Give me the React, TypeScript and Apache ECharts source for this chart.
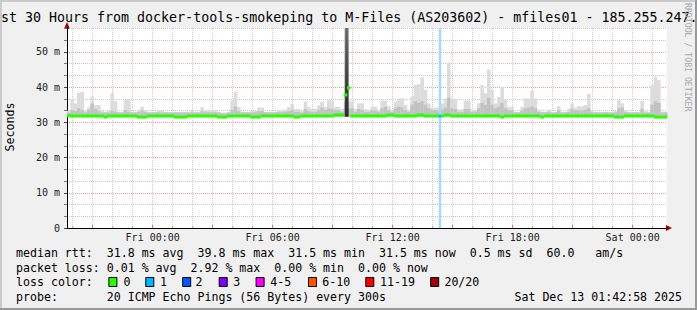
import React, { useEffect, useRef } from "react";
import * as echarts from "echarts";

// time axis: hours since Thu Dec 11 00:00
const START_H = 19 + 42 / 60 + 58 / 3600; // Thu 19:42:58
const SPAN_H = 30;
const BIN_H = 10 / 60;
const SMOKE_FLOOR = 31.6;
const Y_MAX = 56.8;

// smoke upper edge (ms), one value per 10-minute bin
const smokeMax = [
  33.3, 36.5, 35.4, 38.4, 38.7, 33.3, 34.3, 37.3, 34.9, 34.9,
  33.2, 33.0, 33.3, 38.3, 36.0, 33.0, 33.0, 36.5, 36.5, 33.0,
  33.0, 33.6, 34.5, 33.5, 33.0, 33.0, 33.0, 33.5, 33.3, 33.0,
  33.0, 33.0, 33.0, 33.0, 33.0, 33.0, 33.0, 33.2, 33.0, 33.0,
  34.3, 33.5, 33.6, 33.6, 33.5, 33.0, 32.8, 32.8, 33.0, 36.2,
  38.6, 34.4, 33.0, 33.0, 33.0, 33.3, 33.3, 34.2, 34.2, 33.0,
  33.0, 33.0, 33.0, 33.5, 33.5, 33.6, 34.3, 35.3, 33.8, 33.8,
  33.2, 35.9, 34.3, 33.8, 33.8, 34.8, 35.9, 34.4, 36.4, 36.0,
  34.4, 34.4, 33.8, 36.0, 36.0, 36.0, 33.8, 35.4, 35.4, 33.8,
  33.6, 34.4, 34.4, 33.6, 36.2, 36.2, 34.6, 33.6, 35.9, 36.8,
  36.8, 34.9, 33.6, 37.3, 40.6, 40.9, 42.8, 39.2, 35.4, 34.2,
  34.2, 34.2, 35.4, 36.8, 47.0, 36.6, 36.6, 33.7, 33.7, 36.2,
  36.2, 33.6, 33.6, 35.4, 40.6, 38.3, 45.0, 39.2, 35.4, 37.2,
  40.1, 36.4, 34.4, 34.4, 33.0, 33.0, 34.4, 36.8, 36.8, 39.0,
  36.8, 33.6, 33.0, 33.0, 33.6, 33.0, 33.0, 34.6, 33.0, 33.0,
  33.9, 35.4, 34.2, 34.6, 34.6, 34.9, 38.1, 33.5, 33.0, 33.0,
  33.0, 33.0, 33.0, 33.0, 33.2, 36.5, 35.4, 33.5, 33.0, 33.0,
  33.0, 33.0, 36.2, 33.2, 33.0, 40.6, 43.0, 42.0, 33.0, 33.0,
];

// darker inner smoke band upper edge (ms)
const smokeMid = [
  32.8, 33.5, 33.2, 34.0, 33.5, 32.8, 33.5, 35.3, 33.8, 33.2,
  32.8, 32.8, 32.8, 33.3, 33.0, 32.8, 32.8, 33.5, 33.0, 32.8,
  32.8, 32.9, 33.4, 32.9, 32.8, 32.8, 32.8, 32.9, 32.8, 32.8,
  32.8, 32.8, 32.8, 32.8, 32.8, 32.8, 32.8, 32.8, 32.8, 32.8,
  33.2, 32.9, 32.9, 32.9, 32.9, 32.8, 32.6, 32.6, 32.8, 33.5,
  34.5, 33.2, 32.8, 32.8, 32.8, 32.8, 32.8, 33.2, 33.2, 32.8,
  32.8, 32.8, 32.8, 32.9, 32.9, 33.0, 33.2, 33.5, 33.0, 33.0,
  32.8, 33.8, 33.2, 33.0, 33.0, 33.5, 34.2, 33.5, 34.0, 33.8,
  33.5, 33.4, 33.0, 34.0, 34.0, 34.0, 33.0, 33.8, 33.5, 33.0,
  33.0, 33.4, 33.4, 33.0, 34.0, 34.5, 33.4, 33.0, 34.0, 34.5,
  34.2, 33.5, 33.0, 35.0, 36.0, 35.5, 36.0, 35.0, 34.0, 33.5,
  33.5, 33.2, 33.8, 34.2, 37.0, 34.0, 33.8, 33.0, 33.0, 33.8,
  33.8, 33.0, 33.0, 34.0, 35.5, 35.0, 37.0, 35.0, 34.0, 34.5,
  35.5, 34.0, 33.5, 33.4, 32.8, 32.8, 33.4, 34.0, 34.2, 34.5,
  34.0, 33.0, 32.8, 32.8, 33.0, 32.8, 32.8, 33.4, 32.8, 32.8,
  33.0, 33.8, 33.4, 33.4, 33.4, 33.6, 34.0, 32.9, 32.8, 32.8,
  32.8, 32.8, 32.8, 32.8, 32.8, 34.0, 34.2, 32.9, 32.8, 32.8,
  32.8, 32.8, 33.8, 32.8, 32.8, 35.0, 36.0, 35.5, 32.8, 32.8,
];

// median rtt (ms)
const median = [
  31.9, 31.8, 31.8, 31.8, 31.8, 31.8, 31.8, 31.8, 31.8, 31.8,
  31.8, 31.5, 31.8, 31.8, 31.8, 31.8, 31.8, 31.8, 31.8, 31.8,
  31.8, 31.5, 31.5, 31.5, 31.8, 31.8, 31.8, 31.8, 31.8, 31.8,
  31.8, 31.8, 31.5, 31.5, 31.5, 31.5, 31.8, 31.8, 31.8, 31.8,
  31.8, 31.8, 31.8, 31.8, 31.8, 31.5, 31.5, 31.5, 31.8, 31.8,
  31.8, 31.8, 31.8, 31.8, 31.8, 31.5, 31.5, 31.5, 31.8, 31.8,
  31.8, 31.8, 31.8, 31.8, 31.8, 31.8, 31.8, 31.8, 31.5, 31.5,
  31.8, 31.8, 31.8, 31.8, 31.8, 31.8, 31.8, 31.8, 31.8, 31.8,
  32.1, 32.1, 32.1, 37.8, 39.8, 31.8, 31.8, 31.8, 31.8, 31.8,
  31.8, 31.8, 31.8, 31.8, 31.8, 31.8, 32.1, 32.1, 31.8, 31.8,
  31.8, 31.8, 31.8, 31.8, 31.8, 32.1, 32.1, 31.8, 31.8, 31.8,
  31.8, 31.8, 31.8, 32.1, 32.1, 31.8, 31.8, 31.8, 31.8, 31.8,
  31.8, 31.8, 31.8, 31.8, 31.8, 31.8, 31.8, 31.8, 31.8, 31.8,
  31.5, 31.8, 31.8, 31.8, 31.8, 31.8, 31.8, 31.8, 31.8, 31.8,
  31.8, 31.8, 31.5, 31.8, 31.8, 31.8, 31.8, 31.8, 31.8, 31.8,
  31.8, 31.8, 31.8, 31.8, 31.8, 31.8, 31.8, 31.8, 31.8, 31.8,
  31.8, 31.8, 31.8, 31.8, 31.5, 31.5, 31.5, 31.8, 31.8, 31.8,
  31.8, 31.8, 31.8, 31.8, 31.8, 31.8, 31.5, 31.5, 31.5, 31.5,
];

// dark spike: [startH, endH, top ms]
const spikes = [[33.6, 33.8, 56.8]];
// loss events: [startH, endH, lost pings]
const lossEvents = [[38.3, 38.43, 1]];

const yMajorTicks = [0, 10, 20, 30, 40, 50];
const yMinorTicks = [3.333, 6.667, 13.333, 16.667, 23.333, 26.667, 33.333, 36.667, 43.333, 46.667, 53.333, 56.667];
const xHourTicks = [20, 22, 23, 25, 26, 28, 29, 31, 32, 34, 35, 37, 38, 40, 41, 43, 44, 46, 47, 49];
const xMajorTicks = [21, 24, 27, 30, 33, 36, 39, 42, 45, 48];
const xLabelTicks = [24, 30, 36, 42, 48];
const xLabelTexts = ["Fri 00:00", "Fri 06:00", "Fri 12:00", "Fri 18:00", "Sat 00:00"];

const titleText = "st 30 Hours from docker-tools-smokeping to M-Files (AS203602) - mfiles01 - 185.255.247.";
const legendRows = [
  "median rtt:  31.8 ms avg  39.8 ms max  31.5 ms min  31.5 ms now  0.5 ms sd  60.0   am/s",
  "packet loss: 0.01 % avg  2.92 % max  0.00 % min  0.00 % now",
  "loss color:",
  "probe:       20 ICMP Echo Pings (56 Bytes) every 300s",
];
const dateText = "Sat Dec 13 01:42:58 2025";
const lossLabels = ["0", "1", "2", "3", "4-5", "6-10", "11-19", "20/20"];
const lossColors = ["#26ff00", "#00b8ff", "#0059ff", "#7e00ff", "#ff00ff", "#ff5500", "#ff0000", "#a10000"];
const lossBoxX = [108.4, 145.3, 182.2, 218.7, 255.6, 308, 365.3, 430.2];
const lossLabelX = [123.6, 160, 195.6, 233.3, 270.2, 322.2, 380, 444.4];

const MONO = "'DejaVu Sans Mono', monospace";

export default function App() {
  const ref = useRef<HTMLDivElement>(null);
  useEffect(() => {
    if (!ref.current) return;
    const chart = echarts.init(ref.current, null, { renderer: "svg" });

    const smokeData = smokeMax.map((m, i) => [
      START_H + i * BIN_H,
      START_H + (i + 1) * BIN_H,
      m,
      smokeMid[i],
      median[i],
    ]);
    const lossData = lossEvents.map(([a, b, n]) => {
      const idx = Math.min(median.length - 1, Math.floor(((a + b) / 2 - START_H) / BIN_H));
      return [a, b, n, median[idx]];
    });

    const rowY = [253, 268, 282, 297];
    const graphics: any[] = [
      { type: "rect", shape: { x: 0, y: 0, width: 697, height: 2 }, style: { fill: "#cbcbcb" }, silent: true },
      { type: "rect", shape: { x: 0, y: 0, width: 2, height: 310 }, style: { fill: "#cbcbcb" }, silent: true },
      { type: "rect", shape: { x: 695, y: 0, width: 2, height: 310 }, style: { fill: "#999999" }, silent: true },
      { type: "rect", shape: { x: 0, y: 308, width: 697, height: 2 }, style: { fill: "#999999" }, silent: true },
      {
        type: "text", x: 1, y: 17,
        style: { text: titleText, font: `13.3px ${MONO}`, fill: "#000", textAlign: "left", textVerticalAlign: "middle" },
      },
      {
        type: "text", x: 688, y: 3, rotation: -Math.PI / 2,
        style: { text: "RRDTOOL / TOBI OETIKER", font: `8.2px ${MONO}`, fill: "#a8a8a8", textAlign: "left", textVerticalAlign: "middle" },
      },
      {
        type: "text", x: 10, y: 127, rotation: Math.PI / 2,
        style: { text: "Seconds", font: `11.6px ${MONO}`, fill: "#000", textAlign: "center", textVerticalAlign: "middle" },
      },
      { type: "polygon", shape: { points: [[64, 29], [70, 29], [67, 22]] }, style: { fill: "#a00000" } },
      { type: "polygon", shape: { points: [[666, 225], [666, 231], [672, 228]] }, style: { fill: "#a00000" } },
    ];
    legendRows.forEach((t, i) => {
      graphics.push({
        type: "text", x: 16, y: rowY[i],
        style: { text: t, font: `11.6px ${MONO}`, fill: "#000", textAlign: "left", textVerticalAlign: "middle" },
      });
    });
    graphics.push({
      type: "text", x: 682, y: rowY[3],
      style: { text: dateText, font: `11.6px ${MONO}`, fill: "#000", textAlign: "right", textVerticalAlign: "middle" },
    });
    lossLabels.forEach((lab, i) => {
      graphics.push({
        type: "rect", shape: { x: lossBoxX[i] + 0.5, y: rowY[2] - 4.5, width: 8, height: 9 },
        style: { fill: lossColors[i], stroke: "#000", lineWidth: 1 },
      });
      graphics.push({
        type: "text", x: lossLabelX[i], y: rowY[2],
        style: { text: lab, font: `11.6px ${MONO}`, fill: "#000", textAlign: "left", textVerticalAlign: "middle" },
      });
    });

    const option: any = {
      animation: false,
      backgroundColor: "#f0f0f0",
      grid: { left: 67, top: 28, width: 600, height: 200, show: true, backgroundColor: "#ffffff", borderWidth: 0 },
      xAxis: [
        {
          type: "value", min: START_H, max: START_H + SPAN_H,
          axisLine: { show: true, lineStyle: { color: "#000", width: 1 } },
          axisTick: { show: true, inside: true, length: 2, customValues: xHourTicks, lineStyle: { color: "#aaaaaa" } },
          axisLabel: { show: false },
          splitLine: { show: true, lineStyle: { color: "#cccccc", type: [1, 1], width: 1 } },
        },
        {
          type: "value", min: START_H, max: START_H + SPAN_H, position: "bottom",
          axisLine: { show: false },
          axisTick: { show: true, inside: true, length: 3, customValues: xMajorTicks, lineStyle: { color: "#e07070" } },
          axisLabel: {
            show: true, customValues: xLabelTicks, margin: 4,
            fontFamily: "DejaVu Sans Mono", fontSize: 10, color: "#222",
            formatter: (v: number) => {
              const k = xLabelTicks.indexOf(Math.round(v));
              return k >= 0 ? xLabelTexts[k] : "";
            },
          },
          splitLine: { show: true, lineStyle: { color: "#f0bcbc", type: [1, 1], width: 1 } },
        },
      ],
      yAxis: [
        {
          type: "value", min: 0, max: Y_MAX,
          axisLine: { show: true, lineStyle: { color: "#000", width: 1 } },
          axisTick: { show: true, length: 3, customValues: yMajorTicks, lineStyle: { color: "#444" } },
          axisLabel: {
            show: true, customValues: yMajorTicks, margin: 7,
            fontFamily: "DejaVu Sans Mono", fontSize: 10, color: "#222",
            formatter: (v: number) => (v === 0 ? "0" : `${v} m`),
          },
          splitLine: { show: true, lineStyle: { color: "#e6a0a0", type: [1, 1], width: 1 } },
        },
        {
          type: "value", min: 0, max: Y_MAX, position: "left",
          axisLine: { show: false },
          axisTick: { show: true, length: 3, customValues: yMinorTicks, lineStyle: { color: "#777" } },
          axisLabel: { show: false },
          splitLine: { show: true, lineStyle: { color: "#c8c8c8", type: [1, 1], width: 1 } },
        },
      ],
      series: [
        {
          type: "custom", name: "smoke", xAxisIndex: 0, yAxisIndex: 0, silent: true,
          data: smokeData,
          renderItem: (_p: any, api: any) => {
            const t0 = api.value(0), t1 = api.value(1);
            const x0 = api.coord([t0, 0])[0];
            const x1 = api.coord([t1, 0])[0];
            const yLow = api.coord([t0, SMOKE_FLOOR])[1];
            const yMax = api.coord([t0, api.value(2)])[1];
            const yMid = api.coord([t0, api.value(3)])[1];
            const w = x1 - x0 + 0.3;
            return {
              type: "group",
              children: [
                { type: "rect", shape: { x: x0, y: yMax, width: w, height: yLow - yMax }, style: { fill: "#dcdcdc" } },
                { type: "rect", shape: { x: x0, y: yMid, width: w, height: yLow - yMid }, style: { fill: "#c2c2c2" } },
              ],
            };
          },
        },
        {
          type: "custom", name: "spike", xAxisIndex: 0, yAxisIndex: 0, silent: true,
          data: spikes,
          renderItem: (_p: any, api: any) => {
            const x0 = api.coord([api.value(0), 0])[0];
            const x1 = api.coord([api.value(1), 0])[0];
            const yLow = api.coord([0, SMOKE_FLOOR])[1];
            const yTop = api.coord([0, api.value(2)])[1];
            return {
              type: "group",
              children: [
                {
                  type: "rect", shape: { x: x0, y: yTop, width: x1 - x0, height: yLow - yTop },
                  style: {
                    fill: new echarts.graphic.LinearGradient(0, 0, 0, 1, [
                      { offset: 0, color: "#8c8c8c" },
                      { offset: 0.5, color: "#5a5a5a" },
                      { offset: 1, color: "#333333" },
                    ]),
                  },
                },
                {
                  type: "rect", shape: { x: x0 + 1, y: yTop, width: Math.max(1, x1 - x0 - 2), height: yLow - yTop },
                  style: { fill: "rgba(30,30,30,0.35)" },
                },
              ],
            };
          },
        },
        {
          type: "custom", name: "median", xAxisIndex: 0, yAxisIndex: 0, silent: true,
          data: smokeData,
          renderItem: (_p: any, api: any) => {
            const x0 = api.coord([api.value(0), 0])[0];
            const x1 = api.coord([api.value(1), 0])[0];
            const y = api.coord([0, api.value(4)])[1];
            return { type: "rect", shape: { x: x0, y: y - 1.5, width: x1 - x0 + 0.3, height: 3 }, style: { fill: lossColors[0] } };
          },
        },
        {
          type: "custom", name: "loss", xAxisIndex: 0, yAxisIndex: 0, silent: true,
          data: lossData,
          renderItem: (_p: any, api: any) => {
            const x0 = api.coord([api.value(0), 0])[0];
            const x1 = api.coord([api.value(1), 0])[0];
            const yBot = api.coord([0, 0])[1];
            const yTop = api.coord([0, Y_MAX])[1];
            const ym = api.coord([0, api.value(3)])[1];
            const n = api.value(2);
            return {
              type: "group",
              children: [
                { type: "rect", shape: { x: x0, y: yTop, width: x1 - x0, height: yBot - yTop }, style: { fill: "#a9dcf3" } },
                { type: "rect", shape: { x: x0, y: ym - 1.5, width: x1 - x0, height: 3 }, style: { fill: lossColors[Math.min(n, 7)] } },
              ],
            };
          },
        },
      ],
      graphic: graphics,
    };
    chart.setOption(option);
    return () => chart.dispose();
  }, []);
  return <div ref={ref} style={{ position: "fixed", left: 0, top: 0, width: 697, height: 310 }} />;
}
